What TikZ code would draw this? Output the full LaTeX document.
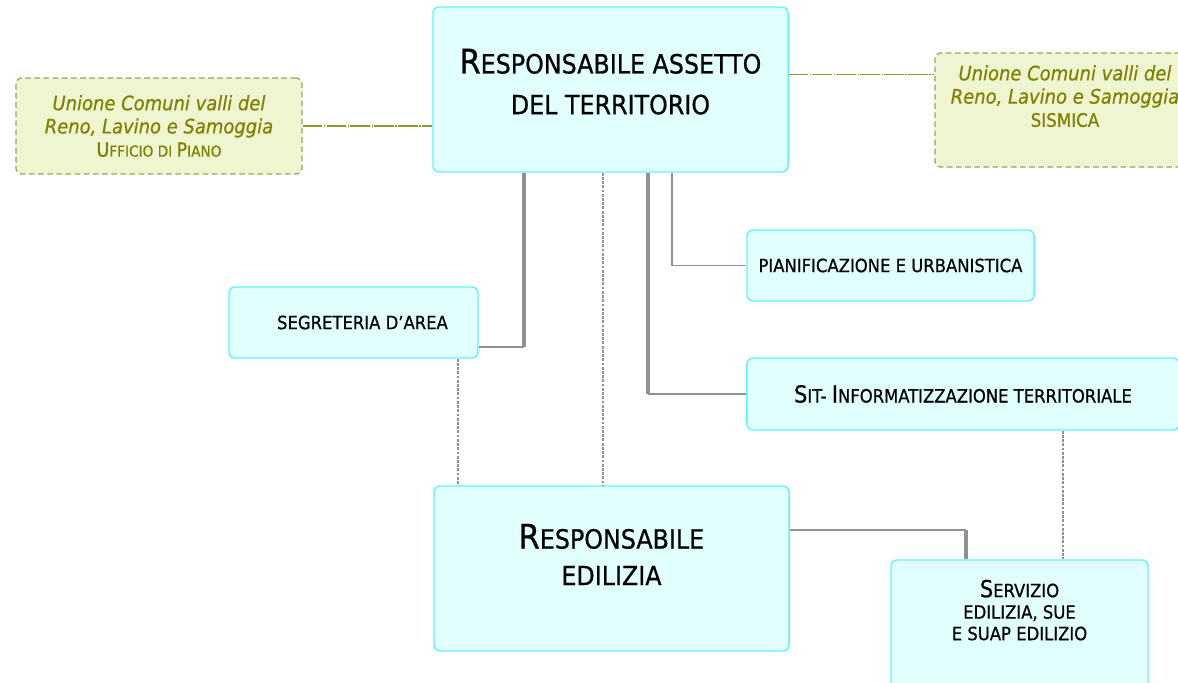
\documentclass[tikz,border=0pt]{standalone}
\usepackage{fontspec}
\setmainfont{DejaVu Sans Condensed}[
    BoldFont=DejaVu Sans Condensed, BoldFeatures={FakeBold=0.7},
    BoldItalicFont=DejaVu Sans Condensed Oblique, BoldItalicFeatures={FakeBold=0.5}]
\usepackage{graphicx}
\usetikzlibrary{positioning,calc}
\definecolor{boxcyan}{RGB}{96,244,250}
\definecolor{boxfill}{RGB}{226,255,255}
\definecolor{unionfill}{RGB}{238,245,208}
\definecolor{unionline}{RGB}{160,160,96}
\definecolor{uniontext}{RGB}{128,128,0}
\definecolor{unionlink}{RGB}{150,150,40}
\definecolor{linkgray}{RGB}{145,145,145}
\newcommand{\capl}[1]{\scalebox{1.28}{#1}}

\begin{document}
\begin{tikzpicture}[
        x=0.025cm, y=-0.025cm,
        office/.style={draw=boxcyan, line width=1pt, fill=boxfill, rounded corners=0.15cm,
            align=center, inner sep=0pt},
        union/.style={draw=unionline, line width=0.9pt, dash pattern=on 4pt off 2.5pt,
            fill=unionfill, rounded corners=0.15cm, align=center, inner sep=0pt,
            text=uniontext, font=\fontsize{14.2}{16.5}\selectfont\bfseries\itshape},
        title/.style={font=\fontsize{18.8}{29}\selectfont\bfseries},
        unit/.style={font=\fontsize{13}{15.3}\selectfont\bfseries},
        trunk/.style={draw=linkgray, line width=2.6pt},
        branch/.style={draw=linkgray, line width=1.2pt},
        staff/.style={draw=linkgray, line width=2pt, dash pattern=on 2pt off 1pt},
        tie/.style={draw=unionlink, line width=0.9pt, dash pattern=on 14pt off 1pt on 1pt off 1pt}]
        \useasboundingbox (0,0) rectangle (1178,683);
        \clip (0,0) rectangle (1178,683);
        % vertici
        \node[office, title, minimum width=8.875cm, minimum height=4.125cm, text depth=0.4cm]
            (rat) at (610.5,89.5) {\capl{R}ESPONSABILE ASSETTO\\ DEL TERRITORIO};
        \node[office, title, minimum width=8.875cm, minimum height=4.125cm, text depth=0.7cm,
            font=\fontsize{18.8}{26}\selectfont\bfseries]
            (redil) at (611.5,568.5) {\capl{R}ESPONSABILE\\ EDILIZIA};
        % unione comuni
        \node[union, minimum width=7.15cm, minimum height=2.4cm]
            (upiano) at (159,126) {Unione Comuni valli del\\ Reno, Lavino e Samoggia\\
            {\upshape\fontsize{10.8}{15}\selectfont\capl{U}FFICIO DI \capl{P}IANO}};
        \node[union, minimum width=6.5cm, minimum height=2.85cm, text depth=0.7cm]
            (sis) at (1065,110) {Unione Comuni valli del\\ Reno, Lavino e Samoggia\\
            {\upshape\fontsize{13.2}{16}\selectfont SISMICA}};
        % servizi
        \node[office, unit, minimum width=6.225cm, minimum height=1.775cm]
            (segr) at (353.5,322.5) {\hspace*{0.45cm}SEGRETERIA D’AREA};
        \node[office, unit, minimum width=7.175cm, minimum height=1.775cm]
            (pian) at (890.5,265.5) {PIANIFICAZIONE E URBANISTICA};
        \node[office, unit, minimum width=10.8cm, minimum height=1.8cm]
            (sit) at (963,394) {\capl{S}IT- \capl{I}NFORMATIZZAZIONE TERRITORIALE};
        \node[office, unit, minimum width=6.425cm, minimum height=3.25cm, text depth=0.75cm]
            (serv) at (1019.5,625) {\capl{S}ERVIZIO\\ EDILIZIA, SUE\\ E SUAP EDILIZIO};
        % collegamenti
        \coordinate (sisin) at ($(sis.north west)+(0,22)$);
        \draw[tie] (upiano.east) -- (upiano.east -| rat.west);
        \draw[tie] (rat.east |- sisin) -- (sisin);
        \coordinate (ka) at ($(rat.south)+(-86.5,0)$);
        \coordinate (kae) at ($(segr.south east)+(0,-12)$);
        \draw[trunk] (ka) -- (ka |- kae);
        \draw[branch] (ka |- kae) -- (kae);
        \coordinate (kb) at ($(rat.south)+(37.5,0)$);
        \draw[trunk] (kb) -- (kb |- sit.west);
        \draw[branch] (kb |- sit.west) -- (sit.west);
        \coordinate (kc) at ($(rat.south)+(61.5,0)$);
        \draw[branch, line width=1.8pt] (kc) -- (kc |- pian.west);
        \draw[branch] (kc |- pian.west) -- (pian.west);
        \coordinate (kd) at ($(redil.north east)+(0,45)$);
        \coordinate (ke) at ($(serv.north)+(-53.5,0)$);
        \draw[branch] (kd) -- (kd -| ke);
        \draw[trunk] (kd -| ke) -- (ke);
        % linee di staff
        \coordinate (sa) at ($(rat.south)+(-7.5,0)$);
        \draw[staff] (sa) -- (sa |- redil.north);
        \coordinate (sb) at ($(segr.south)+(104.5,0)$);
        \draw[staff] (sb) -- (sb |- redil.north);
        \coordinate (sc) at ($(sit.south)+(100,0)$);
        \draw[staff] (sc) -- (sc |- serv.north);
    \end{tikzpicture}
\end{document}
